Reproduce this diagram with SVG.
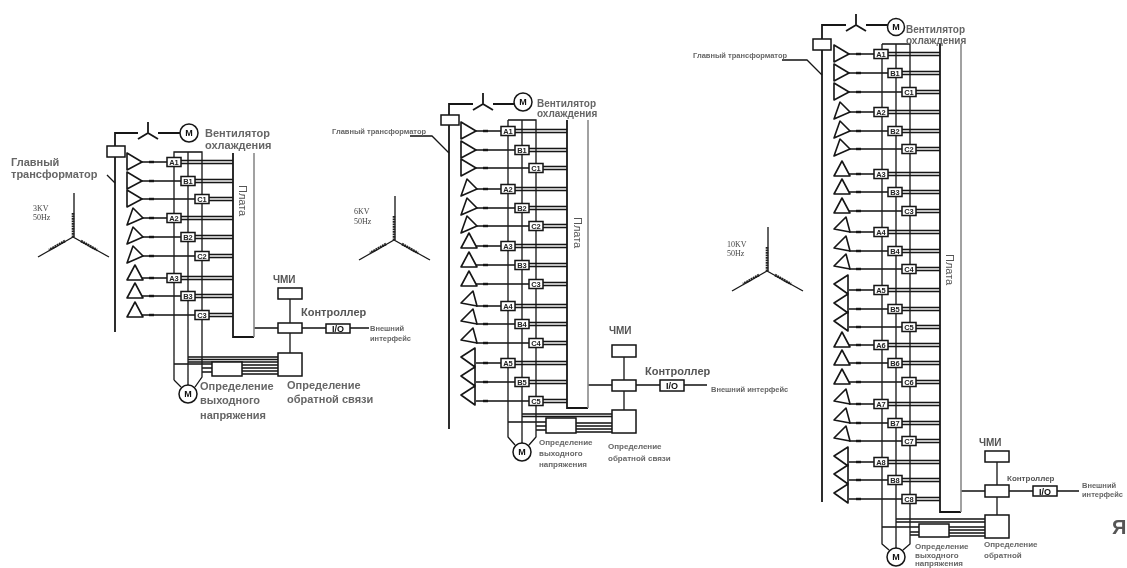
<svg xmlns="http://www.w3.org/2000/svg" width="1127" height="568" viewBox="0 0 1127 568">
<style>
.w,.t,.bx,.pl,.st path{fill:none;stroke:#151515;stroke-width:1.3}
.t{stroke-width:1.6;stroke-linejoin:round;fill:#fff}
.bx{fill:#fff;stroke-width:1.5}
.g2{stroke:#8a8a8a;stroke-width:1.6;fill:none}
.pl{stroke-width:1.8}
.th{stroke:#151515;stroke-width:2.4;fill:none}
.st .coil{stroke:#222;stroke-width:2.6;stroke-dasharray:1.8 .7;fill:none}
text{font-family:"Liberation Sans",Arial,sans-serif}
.m{font-size:7.5px;text-anchor:middle;fill:#222;font-weight:bold}
.l{font-weight:bold;fill:#666}
.c{font-weight:bold;fill:#555}
.pt{font-size:11px;fill:#555}
.k{font-family:"Liberation Serif",serif;font-size:8px;fill:#444}
.mo{font-size:9px;font-weight:bold;text-anchor:middle;fill:#111}
</style>
<defs>
<filter id="b" filterUnits="userSpaceOnUse" x="0" y="0" width="1127" height="568"><feGaussianBlur stdDeviation="0.45"/></filter>
<path id="tR" class="t" d="M0-9V8L15 0Z"/>
<path id="tS" class="t" d="M6-10 0 7 16 0Z"/>
<path id="tU" class="t" d="M8-13 0 2H16Z"/>
<path id="tT" class="t" d="M12-15 0-3 16 0Z"/>
<path id="tL" class="t" d="M14-15 0-6 14 4Z"/>
<rect id="mA" class="bx" x="40" y="-4.5" width="14" height="9"/>
<rect id="mB" class="bx" x="54" y="-4.5" width="14" height="9"/>
<rect id="mC" class="bx" x="68" y="-4.5" width="14" height="9"/>
<g id="wA"><path class="w" d="M15 0H40M54-1.5H106M54 1.5H106"/><path class="th" d="M22 0H27"/></g>
<g id="wB"><path class="w" d="M15 0H54M68-1.5H106M68 1.5H106"/><path class="th" d="M22 0H27"/></g>
<g id="wC"><path class="w" d="M15 0H68M82-1.5H106M82 1.5H106"/><path class="th" d="M22 0H27"/></g>
<g id="star" class="st"><path d="M1-44V0M0 0-35 20M0 0 36 20"/><path class="coil" d="M0-24V0M-8 4-24 13M8 4 24 13"/></g>
<path id="yy" class="pl" d="M0 0V-11M0 0-10 6M0 0 10 6"/>
</defs>
<rect width="1127" height="568" fill="#fff"/>
<g filter="url(#b)">
<g id="connectors">
<g id="c1">
<path class="pl" d="M115 332V133H138M158 133H180"/>
<path class="w" d="M107 175 115 183M174 380V152H202V377L195 387M174 380 181 387M188 152V385M188 357H278M188 359.5H278M188 362H278M174 364H212M202 368H212M202 372H212M242 365H278M242 368H278M242 371H278M242 374H278M254 328H278M302 328H326M350 328H369M290 299V323M290 333V353"/>
<use href="#wA" x="127" y="162"/><use href="#wB" x="127" y="181"/><use href="#wC" x="127" y="199"/>
<use href="#wA" x="127" y="218"/><use href="#wB" x="127" y="237"/><use href="#wC" x="127" y="256"/>
<use href="#wA" x="127" y="278"/><use href="#wB" x="127" y="296"/><use href="#wC" x="127" y="315"/>
</g>
<g id="c2">
<path class="pl" d="M449 429V104H473M493 104H514"/>
<path class="w" d="M410 136H432L449 153M508 120H536V437L529 445M508 120V437L515 445M522 120V443M522 414H612M522 416.5H612M508 422H546M536 426H546M536 430H546M576 423H612M576 426H612M576 429H612M576 432H612M588 385H612M636 385H660M684 385H707M624 357V380M624 391V410"/>
<use href="#wA" x="461" y="131"/><use href="#wB" x="461" y="150"/><use href="#wC" x="461" y="168"/>
<use href="#wA" x="461" y="189"/><use href="#wB" x="461" y="208"/><use href="#wC" x="461" y="226"/>
<use href="#wA" x="461" y="246"/><use href="#wB" x="461" y="265"/><use href="#wC" x="461" y="284"/>
<use href="#wA" x="461" y="306"/><use href="#wB" x="461" y="324"/><use href="#wC" x="461" y="343"/>
<use href="#wA" x="461" y="363"/><use href="#wB" x="461" y="382"/><use href="#wC" x="461" y="401"/>
</g>
<g id="c3">
<path class="pl" d="M822 502V25H846M866 25H888"/>
<path class="w" d="M782 60H807L822 75M882 44H910V544L903 550M882 44V544L889 550M896 44V548M896 519H985M896 522H985M882 527H919M910 532H919M910 535H919M949 527H985M949 530H985M949 533H985M949 536H985M961 491H985M1009 491H1033M1057 491H1079M997 462V485M997 497V515"/>
<use href="#wA" x="834" y="54"/><use href="#wB" x="834" y="73"/><use href="#wC" x="834" y="92"/>
<use href="#wA" x="834" y="112"/><use href="#wB" x="834" y="131"/><use href="#wC" x="834" y="149"/>
<use href="#wA" x="834" y="174"/><use href="#wB" x="834" y="192"/><use href="#wC" x="834" y="211"/>
<use href="#wA" x="834" y="232"/><use href="#wB" x="834" y="251"/><use href="#wC" x="834" y="269"/>
<use href="#wA" x="834" y="290"/><use href="#wB" x="834" y="309"/><use href="#wC" x="834" y="327"/>
<use href="#wA" x="834" y="345"/><use href="#wB" x="834" y="363"/><use href="#wC" x="834" y="382"/>
<use href="#wA" x="834" y="404"/><use href="#wB" x="834" y="423"/><use href="#wC" x="834" y="441"/>
<use href="#wA" x="834" y="462"/><use href="#wB" x="834" y="480"/><use href="#wC" x="834" y="499"/>
</g>
</g>

<g id="d1-star" transform="translate(73 237)"><use href="#star"/></g>
<g id="d1-kv"><text class="k" x="33" y="211">3KV</text><text class="k" x="33" y="220">50Hz</text></g>
<g id="d1-transformer"><rect class="bx" x="107" y="146" width="18" height="11"/><text class="l" font-size="11" x="11" y="166">Главный</text><text class="l" font-size="11" x="11" y="178">трансформатор</text></g>
<g id="d1-y" transform="translate(148 133)"><use href="#yy"/></g>
<g id="d1-fan"><circle class="bx" cx="189" cy="133" r="9"/><text class="mo" x="189" y="136">М</text><text class="l" font-size="11" x="205" y="137">Вентилятор</text><text class="l" font-size="11" x="205" y="149">охлаждения</text></g>
<g id="d1-a1" transform="translate(127 162)"><use href="#tR"/><use href="#mA"/><text class="m" x="47" y="3">A1</text></g>
<g id="d1-b1" transform="translate(127 181)"><use href="#tR"/><use href="#mB"/><text class="m" x="61" y="3">B1</text></g>
<g id="d1-c1" transform="translate(127 199)"><use href="#tR"/><use href="#mC"/><text class="m" x="75" y="3">C1</text></g>
<g id="d1-a2" transform="translate(127 218)"><use href="#tS"/><use href="#mA"/><text class="m" x="47" y="3">A2</text></g>
<g id="d1-b2" transform="translate(127 237)"><use href="#tS"/><use href="#mB"/><text class="m" x="61" y="3">B2</text></g>
<g id="d1-c2" transform="translate(127 256)"><use href="#tS"/><use href="#mC"/><text class="m" x="75" y="3">C2</text></g>
<g id="d1-a3" transform="translate(127 278)"><use href="#tU"/><use href="#mA"/><text class="m" x="47" y="3">A3</text></g>
<g id="d1-b3" transform="translate(127 296)"><use href="#tU"/><use href="#mB"/><text class="m" x="61" y="3">B3</text></g>
<g id="d1-c3" transform="translate(127 315)"><use href="#tU"/><use href="#mC"/><text class="m" x="75" y="3">C3</text></g>
<g id="d1-board"><path class="pl" d="M233 153V337H254"/><path class="g2" d="M254 337V153"/><text class="pt" transform="translate(239 185) rotate(90)">Плата</text></g>
<g id="d1-hmi"><rect class="bx" x="278" y="288" width="24" height="11"/><text class="c" font-size="10" x="273" y="283">ЧМИ</text></g>
<g id="d1-ctrl"><rect class="bx" x="278" y="323" width="24" height="10"/><text class="c" font-size="11" x="301" y="316">Контроллер</text></g>
<g id="d1-io"><rect class="bx" x="326" y="324" width="24" height="9"/><text class="mo" x="338" y="332">I/O</text><text class="l" font-size="7.5" x="370" y="331">Внешний</text><text class="l" font-size="7.5" x="370" y="341">интерфейс</text></g>
<g id="d1-volt"><rect class="bx" x="212" y="362" width="30" height="14"/></g>
<g id="d1-fb"><rect class="bx" x="278" y="353" width="24" height="23"/><text class="l" font-size="11" x="287" y="389">Определение</text><text class="l" font-size="11" x="287" y="403">обратной связи</text></g>
<g id="d1-motor"><circle class="bx" cx="188" cy="394" r="9"/><text class="mo" x="188" y="397">М</text><text class="l" font-size="11" x="200" y="390">Определение</text><text class="l" font-size="11" x="200" y="404">выходного</text><text class="l" font-size="11" x="200" y="419">напряжения</text></g>

<g id="d2-star" transform="translate(394 240)"><use href="#star"/></g>
<g id="d2-kv"><text class="k" x="354" y="214">6KV</text><text class="k" x="354" y="224">50Hz</text></g>
<g id="d2-transformer"><rect class="bx" x="441" y="115" width="18" height="10"/><text class="l" font-size="7.5" x="332" y="134">Главный трансформатор</text></g>
<g id="d2-y" transform="translate(483 104)"><use href="#yy"/></g>
<g id="d2-fan"><circle class="bx" cx="523" cy="102" r="9"/><text class="mo" x="523" y="105">М</text><text class="l" font-size="10" x="537" y="107">Вентилятор</text><text class="l" font-size="10" x="537" y="117">охлаждения</text></g>
<g id="d2-a1" transform="translate(461 131)"><use href="#tR"/><use href="#mA"/><text class="m" x="47" y="3">A1</text></g>
<g id="d2-b1" transform="translate(461 150)"><use href="#tR"/><use href="#mB"/><text class="m" x="61" y="3">B1</text></g>
<g id="d2-c1" transform="translate(461 168)"><use href="#tR"/><use href="#mC"/><text class="m" x="75" y="3">C1</text></g>
<g id="d2-a2" transform="translate(461 189)"><use href="#tS"/><use href="#mA"/><text class="m" x="47" y="3">A2</text></g>
<g id="d2-b2" transform="translate(461 208)"><use href="#tS"/><use href="#mB"/><text class="m" x="61" y="3">B2</text></g>
<g id="d2-c2" transform="translate(461 226)"><use href="#tS"/><use href="#mC"/><text class="m" x="75" y="3">C2</text></g>
<g id="d2-a3" transform="translate(461 246)"><use href="#tU"/><use href="#mA"/><text class="m" x="47" y="3">A3</text></g>
<g id="d2-b3" transform="translate(461 265)"><use href="#tU"/><use href="#mB"/><text class="m" x="61" y="3">B3</text></g>
<g id="d2-c3" transform="translate(461 284)"><use href="#tU"/><use href="#mC"/><text class="m" x="75" y="3">C3</text></g>
<g id="d2-a4" transform="translate(461 306)"><use href="#tT"/><use href="#mA"/><text class="m" x="47" y="3">A4</text></g>
<g id="d2-b4" transform="translate(461 324)"><use href="#tT"/><use href="#mB"/><text class="m" x="61" y="3">B4</text></g>
<g id="d2-c4" transform="translate(461 343)"><use href="#tT"/><use href="#mC"/><text class="m" x="75" y="3">C4</text></g>
<g id="d2-a5" transform="translate(461 363)"><use href="#tL"/><use href="#mA"/><text class="m" x="47" y="3">A5</text></g>
<g id="d2-b5" transform="translate(461 382)"><use href="#tL"/><use href="#mB"/><text class="m" x="61" y="3">B5</text></g>
<g id="d2-c5" transform="translate(461 401)"><use href="#tL"/><use href="#mC"/><text class="m" x="75" y="3">C5</text></g>
<g id="d2-board"><path class="pl" d="M567 120V408H588"/><path class="g2" d="M588 408V120"/><text class="pt" transform="translate(574 217) rotate(90)">Плата</text></g>
<g id="d2-hmi"><rect class="bx" x="612" y="345" width="24" height="12"/><text class="c" font-size="10" x="609" y="334">ЧМИ</text></g>
<g id="d2-ctrl"><rect class="bx" x="612" y="380" width="24" height="11"/><text class="c" font-size="11" x="645" y="375">Контроллер</text></g>
<g id="d2-io"><rect class="bx" x="660" y="380" width="24" height="11"/><text class="mo" x="672" y="389">I/O</text><text class="l" font-size="7.5" x="711" y="392">Внешний интерфейс</text></g>
<g id="d2-volt"><rect class="bx" x="546" y="418" width="30" height="15"/></g>
<g id="d2-fb"><rect class="bx" x="612" y="410" width="24" height="23"/><text class="l" font-size="8" x="608" y="449">Определение</text><text class="l" font-size="8" x="608" y="461">обратной связи</text></g>
<g id="d2-motor"><circle class="bx" cx="522" cy="452" r="9"/><text class="mo" x="522" y="455">М</text><text class="l" font-size="8" x="539" y="445">Определение</text><text class="l" font-size="8" x="539" y="456">выходного</text><text class="l" font-size="8" x="539" y="467">напряжения</text></g>

<g id="d3-star" transform="translate(767 271)"><use href="#star"/></g>
<g id="d3-kv"><text class="k" x="727" y="247">10KV</text><text class="k" x="727" y="256">50Hz</text></g>
<g id="d3-transformer"><rect class="bx" x="813" y="39" width="18" height="11"/><text class="l" font-size="7.5" x="693" y="58">Главный трансформатор</text></g>
<g id="d3-y" transform="translate(856 25)"><use href="#yy"/></g>
<g id="d3-fan"><circle class="bx" cx="896" cy="27" r="8.5"/><text class="mo" x="896" y="30">М</text><text class="l" font-size="10" x="906" y="33">Вентилятор</text><text class="l" font-size="10" x="906" y="44">охлаждения</text></g>
<g id="d3-a1" transform="translate(834 54)"><use href="#tR"/><use href="#mA"/><text class="m" x="47" y="3">A1</text></g>
<g id="d3-b1" transform="translate(834 73)"><use href="#tR"/><use href="#mB"/><text class="m" x="61" y="3">B1</text></g>
<g id="d3-c1" transform="translate(834 92)"><use href="#tR"/><use href="#mC"/><text class="m" x="75" y="3">C1</text></g>
<g id="d3-a2" transform="translate(834 112)"><use href="#tS"/><use href="#mA"/><text class="m" x="47" y="3">A2</text></g>
<g id="d3-b2" transform="translate(834 131)"><use href="#tS"/><use href="#mB"/><text class="m" x="61" y="3">B2</text></g>
<g id="d3-c2" transform="translate(834 149)"><use href="#tS"/><use href="#mC"/><text class="m" x="75" y="3">C2</text></g>
<g id="d3-a3" transform="translate(834 174)"><use href="#tU"/><use href="#mA"/><text class="m" x="47" y="3">A3</text></g>
<g id="d3-b3" transform="translate(834 192)"><use href="#tU"/><use href="#mB"/><text class="m" x="61" y="3">B3</text></g>
<g id="d3-c3" transform="translate(834 211)"><use href="#tU"/><use href="#mC"/><text class="m" x="75" y="3">C3</text></g>
<g id="d3-a4" transform="translate(834 232)"><use href="#tT"/><use href="#mA"/><text class="m" x="47" y="3">A4</text></g>
<g id="d3-b4" transform="translate(834 251)"><use href="#tT"/><use href="#mB"/><text class="m" x="61" y="3">B4</text></g>
<g id="d3-c4" transform="translate(834 269)"><use href="#tT"/><use href="#mC"/><text class="m" x="75" y="3">C4</text></g>
<g id="d3-a5" transform="translate(834 290)"><use href="#tL"/><use href="#mA"/><text class="m" x="47" y="3">A5</text></g>
<g id="d3-b5" transform="translate(834 309)"><use href="#tL"/><use href="#mB"/><text class="m" x="61" y="3">B5</text></g>
<g id="d3-c5" transform="translate(834 327)"><use href="#tL"/><use href="#mC"/><text class="m" x="75" y="3">C5</text></g>
<g id="d3-a6" transform="translate(834 345)"><use href="#tU"/><use href="#mA"/><text class="m" x="47" y="3">A6</text></g>
<g id="d3-b6" transform="translate(834 363)"><use href="#tU"/><use href="#mB"/><text class="m" x="61" y="3">B6</text></g>
<g id="d3-c6" transform="translate(834 382)"><use href="#tU"/><use href="#mC"/><text class="m" x="75" y="3">C6</text></g>
<g id="d3-a7" transform="translate(834 404)"><use href="#tT"/><use href="#mA"/><text class="m" x="47" y="3">A7</text></g>
<g id="d3-b7" transform="translate(834 423)"><use href="#tT"/><use href="#mB"/><text class="m" x="61" y="3">B7</text></g>
<g id="d3-c7" transform="translate(834 441)"><use href="#tT"/><use href="#mC"/><text class="m" x="75" y="3">C7</text></g>
<g id="d3-a8" transform="translate(834 462)"><use href="#tL"/><use href="#mA"/><text class="m" x="47" y="3">A8</text></g>
<g id="d3-b8" transform="translate(834 480)"><use href="#tL"/><use href="#mB"/><text class="m" x="61" y="3">B8</text></g>
<g id="d3-c8" transform="translate(834 499)"><use href="#tL"/><use href="#mC"/><text class="m" x="75" y="3">C8</text></g>
<g id="d3-board"><path class="pl" d="M940 44V512H961"/><path class="g2" d="M961 512V44"/><text class="pt" transform="translate(946 254) rotate(90)">Плата</text></g>
<g id="d3-hmi"><rect class="bx" x="985" y="451" width="24" height="11"/><text class="c" font-size="10" x="979" y="446">ЧМИ</text></g>
<g id="d3-ctrl"><rect class="bx" x="985" y="485" width="24" height="12"/><text class="c" font-size="8" x="1007" y="481">Контроллер</text></g>
<g id="d3-io"><rect class="bx" x="1033" y="486" width="24" height="10"/><text class="mo" x="1045" y="495">I/O</text><text class="l" font-size="7.5" x="1082" y="488">Внешний</text><text class="l" font-size="7.5" x="1082" y="497">интерфейс</text></g>
<g id="d3-volt"><rect class="bx" x="919" y="524" width="30" height="13"/></g>
<g id="d3-fb"><rect class="bx" x="985" y="515" width="24" height="23"/><text class="l" font-size="8" x="984" y="547">Определение</text><text class="l" font-size="8" x="984" y="558">обратной</text></g>
<g id="d3-motor"><circle class="bx" cx="896" cy="557" r="9"/><text class="mo" x="896" y="560">М</text><text class="l" font-size="8" x="915" y="549">Определение</text><text class="l" font-size="8" x="915" y="557.5">выходного</text><text class="l" font-size="8" x="915" y="566">напряжения</text></g>
<text id="watermark" x="1112" y="534" font-size="20" font-weight="bold" fill="#555">Я</text>
</g>
</svg>
